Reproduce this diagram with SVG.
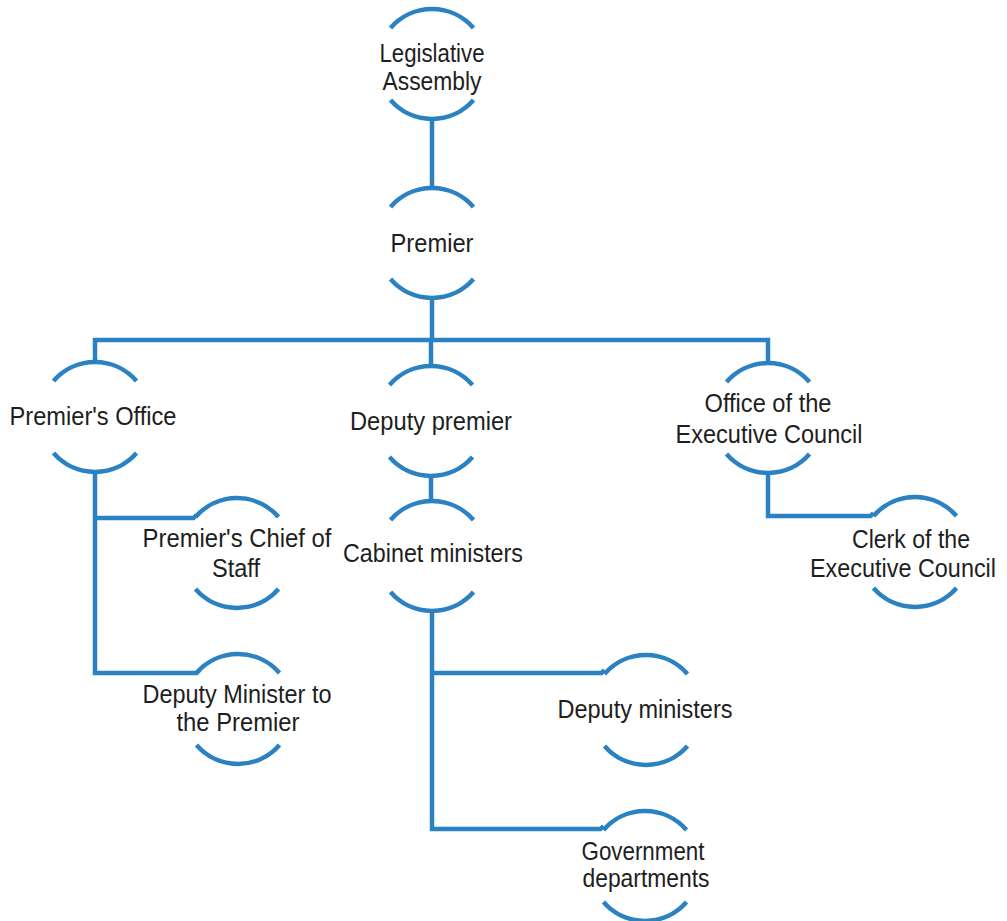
<svg xmlns="http://www.w3.org/2000/svg" width="1007" height="921" viewBox="0 0 1007 921">
  <style>
    .arc { fill: none; stroke: #2a82c2; stroke-width: 4.5; stroke-linecap: butt; }
    .link { fill: none; stroke: #2a82c2; stroke-width: 4.5; stroke-linejoin: miter; }
    .lbl { font-family: "Liberation Sans", Arial, sans-serif; font-size: 25px; fill: #1e1e1e; text-anchor: middle; }
  </style>
  <defs>
    <!-- open circle: only the top and bottom arcs are drawn (r=55) -->
    <g id="ring">
      <path class="arc" d="M -41.5 -36 A 55 55 0 0 1 41.5 -36"/>
      <path class="arc" d="M -41.5 36 A 55 55 0 0 0 41.5 36"/>
    </g>
  </defs>
  <rect width="1007" height="921" fill="#ffffff"/>

  <g id="connectors">
    <path class="link" d="M 432 119 V 188"/>
    <path class="link" d="M 432 298 V 340"/>
    <path class="link" d="M 95 362 V 340 H 768 V 363"/>
    <path class="link" d="M 431 340 V 366"/>
    <path class="link" d="M 95 472 V 673 H 196.5 L 199.5 670"/>
    <path class="link" d="M 95 518 H 193.5 L 196.5 515"/>
    <path class="link" d="M 431 476 V 501"/>
    <path class="link" d="M 768 473 V 516 H 870.5 L 873.5 513"/>
    <path class="link" d="M 432 611 V 829 H 600.5 L 603.5 826"/>
    <path class="link" d="M 432 673 H 601.5 L 604.5 670"/>
  </g>

  <g id="legislative-assembly">
    <use href="#ring" x="432" y="64"/>
    <text class="lbl" x="432" y="62" textLength="105" lengthAdjust="spacingAndGlyphs">Legislative</text>
    <text class="lbl" x="432" y="90" textLength="99" lengthAdjust="spacingAndGlyphs">Assembly</text>
  </g>

  <g id="premier">
    <use href="#ring" x="432" y="243"/>
    <text class="lbl" x="432" y="252" textLength="83" lengthAdjust="spacingAndGlyphs">Premier</text>
  </g>

  <g id="premiers-office">
    <use href="#ring" x="95" y="417"/>
    <text class="lbl" x="93" y="425" textLength="167" lengthAdjust="spacingAndGlyphs">Premier's Office</text>
  </g>

  <g id="deputy-premier">
    <use href="#ring" x="431" y="421"/>
    <text class="lbl" x="431" y="430" textLength="162" lengthAdjust="spacingAndGlyphs">Deputy premier</text>
  </g>

  <g id="office-executive-council">
    <use href="#ring" x="768" y="418"/>
    <text class="lbl" x="768" y="412" textLength="127" lengthAdjust="spacingAndGlyphs">Office of the</text>
    <text class="lbl" x="769" y="443" textLength="187" lengthAdjust="spacingAndGlyphs">Executive  Council</text>
  </g>

  <g id="chief-of-staff">
    <use href="#ring" x="237" y="553"/>
    <text class="lbl" x="237" y="547" textLength="189" lengthAdjust="spacingAndGlyphs">Premier's Chief of</text>
    <text class="lbl" x="236" y="577" textLength="48" lengthAdjust="spacingAndGlyphs">Staff</text>
  </g>

  <g id="cabinet-ministers">
    <use href="#ring" x="432" y="556"/>
    <text class="lbl" x="433" y="562" textLength="180" lengthAdjust="spacingAndGlyphs">Cabinet ministers</text>
  </g>

  <g id="clerk-executive-council">
    <use href="#ring" x="915" y="552"/>
    <text class="lbl" x="911" y="548" textLength="118" lengthAdjust="spacingAndGlyphs">Clerk of the</text>
    <text class="lbl" x="903" y="577" font-size="24" textLength="186" lengthAdjust="spacingAndGlyphs">Executive Council</text>
  </g>

  <g id="deputy-minister-premier">
    <use href="#ring" x="238" y="709"/>
    <text class="lbl" x="237" y="703" textLength="189" lengthAdjust="spacingAndGlyphs">Deputy Minister to</text>
    <text class="lbl" x="238" y="731" textLength="123" lengthAdjust="spacingAndGlyphs">the Premier</text>
  </g>

  <g id="deputy-ministers">
    <use href="#ring" x="646" y="710"/>
    <text class="lbl" x="645" y="718" textLength="175" lengthAdjust="spacingAndGlyphs">Deputy ministers</text>
  </g>

  <g id="government-departments">
    <use href="#ring" x="645" y="866"/>
    <text class="lbl" x="643" y="860" textLength="123" lengthAdjust="spacingAndGlyphs">Government</text>
    <text class="lbl" x="646" y="887" textLength="127" lengthAdjust="spacingAndGlyphs">departments</text>
  </g>
</svg>
